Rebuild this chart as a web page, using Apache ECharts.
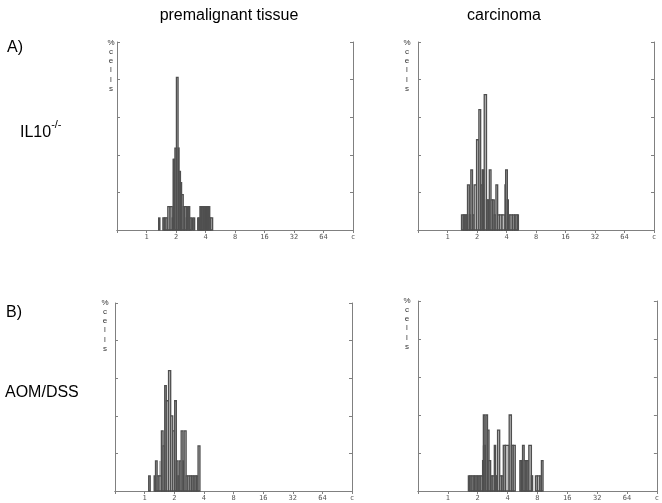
<!DOCTYPE html>
<html><head><meta charset="utf-8">
<script src="https://cdn.jsdelivr.net/npm/echarts/dist/echarts.min.js"></script>
<style>html,body{margin:0;padding:0;background:#fff}#c{width:662px;height:503px}</style>
</head><body><div id="c"></div>
<script>
// x axis ticks: DNA content (c), log2 scale
const tickValues = [0.5, 1, 2, 4, 8, 16, 32, 64, 128];
const tickLabels = ['', '1', '2', '4', '8', '16', '32', '64', 'c'];
const colTitles = ['premalignant tissue', 'carcinoma'];
const rowLabels = ['A)', 'B)'];
const yAxisTitle = '%\nc\ne\nl\nl\ns';

// A) IL10-/- premalignant tissue : bin edges (c) and % cells
const p1Edges = [1.33,1.37,1.47,1.52,1.58,1.65,1.74,1.83,1.87,1.91,1.95,2.02,2.10,2.15,2.22,2.28,2.37,2.45,2.55,2.62,2.70,2.76,2.86,2.92,2.98,3.04,3.10,3.33,3.42,3.51,3.62,3.71,3.83,3.95,4.06,4.17,4.30,4.42,4.52,4.73];
const p1Pct   = [1.6,0,1.6,1.6,1.6,3.1,3.1,1.6,9.4,9.4,10.9,20.3,10.9,7.8,6.3,4.7,3.1,3.1,1.6,3.1,3.1,1.6,0,1.6,0,1.6,0,1.6,1.6,3.1,3.1,3.1,3.1,3.1,3.1,3.1,3.1,1.6,1.6];
const p1FillEdges = [1.47,1.65,1.86,2.22,2.37,2.86,3.71,4.73];
const p1FillPct   = [1.6,1.6,7.8,4.7,1.6,0,1.6];

// A) IL10-/- carcinoma
const p2Edges = [1.39,1.45,1.50,1.55,1.60,1.67,1.73,1.80,1.87,1.98,2.09,2.18,2.26,2.33,2.37,2.50,2.59,2.67,2.78,2.89,3.00,3.12,3.25,3.40,3.60,3.86,3.92,4.08,4.18,4.34,4.59,4.81,5.00,5.20,5.29];
const p2Pct   = [2,2,2,2,6,2,8,2,6,12,16,6,8,6,18,4,4,8,4,4,2,6,2,2,2,6,8,4,2,2,2,2,2,2];
const p2FillEdges = [1.45,1.87,1.98,2.09,2.37,2.50,2.67,3.86,4.08,5.29];
const p2FillPct   = [2,6,12,6,4,4,2,4,2];

// B) AOM/DSS premalignant tissue
const p3Edges = [1.10,1.14,1.25,1.29,1.34,1.40,1.48,1.54,1.60,1.66,1.75,1.84,1.93,2.02,2.10,2.18,2.25,2.35,2.45,2.52,2.64,2.75,2.88,3.00,3.12,3.25,3.37,3.49,3.65];
const p3Pct   = [2,0,2,4,2,2,8,6,14,12,16,10,8,12,4,2,4,8,4,8,2,2,2,2,2,2,2,6];
const p3FillEdges = [1.25,1.40,1.54,1.66,1.75,1.93,2.02,2.18,3.49];
const p3FillPct   = [2,4,6,12,8,8,4,2];

// B) AOM/DSS carcinoma
const p4Edges = [1.61,1.66,1.72,1.80,1.86,1.93,2.00,2.07,2.15,2.24,2.28,2.36,2.42,2.51,2.60,2.70,2.80,2.94,3.03,3.12,3.17,3.33,3.48,3.62,3.80,4.15,4.37,4.56,4.78,5.32,5.50,5.66,5.88,6.10,6.30,6.55,6.95,7.15,7.64,8.00,8.45,8.77,9.11];
const p4Pct   = [2,2,2,2,2,2,2,2,2,4,10,6,10,8,4,2,2,6,2,2,8,2,2,6,6,10,6,6,0,4,4,6,4,4,4,6,2,0,2,2,2,4];
const p4FillEdges = [1.61,2.24,2.60,2.70,3.33,3.73,4.78,5.32,6.95,7.15];
const p4FillPct   = [2,6,4,2,2,6,0,4,2];

const panels = [
  {grid:{left:117, top:42, width:236, height:188}, edges:p1Edges, pct:p1Pct, fe:p1FillEdges, fp:p1FillPct, ylab:[111, 38]},
  {grid:{left:418, top:42, width:236, height:188}, edges:p2Edges, pct:p2Pct, fe:p2FillEdges, fp:p2FillPct, ylab:[407, 38]},
  {grid:{left:115, top:303, width:237, height:188}, edges:p3Edges, pct:p3Pct, fe:p3FillEdges, fp:p3FillPct, ylab:[105, 298]},
  {grid:{left:418, top:301, width:240, height:190}, edges:p4Edges, pct:p4Pct, fe:p4FillEdges, fp:p4FillPct, ylab:[407, 296]}
];

function toBins(edges, vals) {
  const out = [];
  for (let i = 0; i < vals.length; i++) if (vals[i] > 0) out.push([edges[i], edges[i + 1], vals[i]]);
  return out;
}
function labelFor(v) {
  for (let k = 0; k < tickValues.length; k++) {
    if (Math.abs(Math.log2(v) - Math.log2(tickValues[k])) < 1e-6) return tickLabels[k];
  }
  return '';
}
function binRenderer(style) {
  return function (params, api) {
    const a = api.coord([api.value(0), api.value(2)]);
    const b = api.coord([api.value(1), 0]);
    return {type:'rect', shape:{x:a[0], y:a[1], width:b[0]-a[0], height:b[1]-a[1]}, style:style};
  };
}

const axisColor = '#808080';
const grids = [], xAxes = [], yAxes = [], series = [], graphics = [];
panels.forEach(function (p, i) {
  grids.push(p.grid);
  xAxes.push({type:'log', logBase:2, gridIndex:i, min:0.5, max:128, position:'bottom',
    axisLine:{show:true, lineStyle:{color:axisColor, width:1}}, axisTick:{show:false}, splitLine:{show:false},
    axisLabel:{show:true, formatter:labelFor, fontSize:7, color:'#555', fontFamily:'DejaVu Sans Mono', margin:4,
      showMinLabel:true, showMaxLabel:true, hideOverlap:false}});
  xAxes.push({type:'log', logBase:2, gridIndex:i, min:0.5, max:128, position:'top',
    axisLine:{show:true, lineStyle:{color:axisColor, width:1}},
    axisTick:{show:true, inside:true, length:3, lineStyle:{color:axisColor}},
    axisLabel:{show:false}, splitLine:{show:false}});
  ['left', 'right'].forEach(function (pos) {
    yAxes.push({type:'value', gridIndex:i, min:0, max:25, interval:5, position:pos,
      axisLine:{show:true, lineStyle:{color:axisColor, width:1}},
      axisTick:{show:true, inside:true, length:3, lineStyle:{color:axisColor}},
      axisLabel:{show:false}, splitLine:{show:false}});
  });
  series.push({type:'custom', xAxisIndex:2*i, yAxisIndex:2*i, encode:{x:[0,1], y:2},
    renderItem:binRenderer({fill:'#bdbdbd', stroke:null}), data:toBins(p.fe, p.fp), silent:true, z:2});
  series.push({type:'custom', xAxisIndex:2*i, yAxisIndex:2*i, encode:{x:[0,1], y:2},
    renderItem:binRenderer({fill:'#bdbdbd', stroke:'#4f4f4f', lineWidth:1.3}), data:toBins(p.edges, p.pct), silent:true, z:3});
  graphics.push({type:'text', x:p.ylab[0], y:p.ylab[1],
    style:{text:yAxisTitle, fontSize:8, lineHeight:9.2, fill:'#333', align:'center', verticalAlign:'top', fontFamily:'Liberation Sans'}});
});

const tf = {fontSize:16, fill:'#000', fontFamily:'Liberation Sans'};
graphics.push({type:'text', x:229, y:16, style:Object.assign({text:colTitles[0], align:'center', verticalAlign:'middle'}, tf)});
graphics.push({type:'text', x:504, y:16, style:Object.assign({text:colTitles[1], align:'center', verticalAlign:'middle'}, tf)});
graphics.push({type:'text', x:7, y:47.5, style:Object.assign({text:rowLabels[0], align:'left', verticalAlign:'middle'}, tf)});
graphics.push({type:'text', x:6, y:312.5, style:Object.assign({text:rowLabels[1], align:'left', verticalAlign:'middle'}, tf)});
graphics.push({type:'text', x:5, y:393, style:Object.assign({text:'AOM/DSS', align:'left', verticalAlign:'middle'}, tf)});
graphics.push({type:'text', x:20, y:130, style:{text:'{a|IL10}{b|-/-}', align:'left', verticalAlign:'middle', fontFamily:'Liberation Sans',
  rich:{a:{fontSize:16, fill:'#000', fontFamily:'Liberation Sans', verticalAlign:'bottom', lineHeight:22},
        b:{fontSize:11, fill:'#000', fontFamily:'Liberation Sans', verticalAlign:'top', lineHeight:22}}}});

const chart = echarts.init(document.getElementById('c'), null, {renderer:'canvas'});
chart.setOption({animation:false, backgroundColor:'#fff', grid:grids, xAxis:xAxes, yAxis:yAxes, series:series, graphic:graphics});
</script></body></html>
